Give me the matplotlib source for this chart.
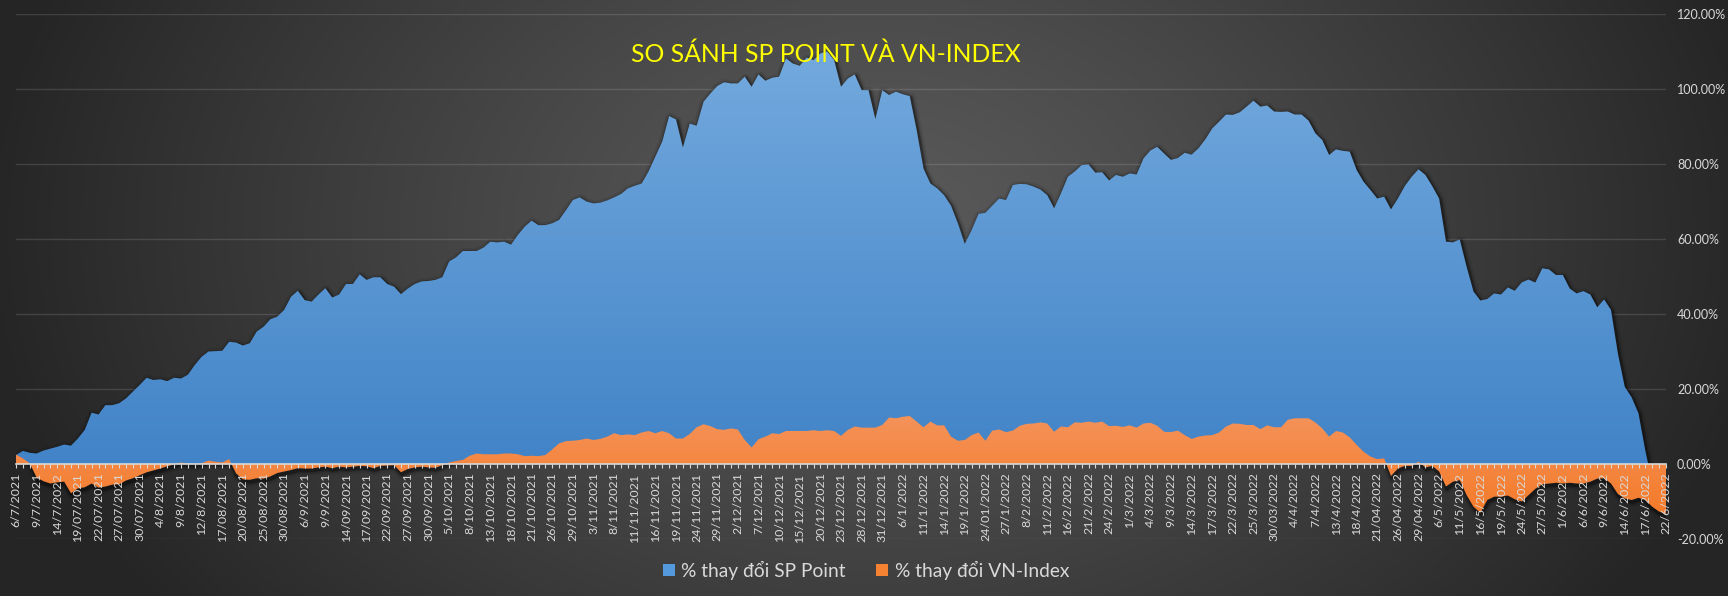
import numpy as np
import matplotlib
matplotlib.use("Agg")
import matplotlib.pyplot as plt
from matplotlib.patches import Polygon, Patch
from matplotlib import transforms
import matplotlib.colors as mcolors

# ---------------- data ----------------
sp_point = [
    2.4, 3.5, 3.0, 2.8, 3.6, 4.1, 4.6, 5.2, 4.9, 6.8,
    9.1, 13.7, 13.2, 15.7, 15.7, 16.2, 17.5, 19.3, 21.1, 23.0,
    22.4, 22.6, 22.1, 23.0, 22.8, 23.8, 26.4, 28.6, 30.0, 30.1,
    30.2, 32.6, 32.4, 31.6, 32.2, 35.3, 36.6, 38.6, 39.3, 41.1,
    44.6, 46.2, 43.7, 43.3, 45.2, 46.9, 44.4, 45.2, 48.0, 48.0,
    50.6, 49.1, 49.8, 49.8, 48.0, 47.3, 45.3, 46.8, 48.0, 48.7,
    48.8, 49.1, 49.8, 54.0, 55.1, 56.8, 56.8, 56.8, 57.7, 59.3,
    59.1, 59.3, 58.5, 61.1, 63.3, 64.9, 63.7, 63.7, 64.2, 65.1,
    67.7, 70.4, 71.1, 70.0, 69.5, 69.7, 70.3, 71.1, 72.0, 73.5,
    74.2, 74.8, 78.0, 82.0, 86.0, 92.8, 91.9, 84.4, 90.8, 90.2,
    96.6, 98.8, 100.8, 101.8, 101.5, 101.5, 103.3, 100.6, 103.9, 102.2,
    103.0, 103.3, 108.2, 106.8, 106.2, 108.4, 107.7, 109.5, 110.0, 107.7,
    100.6, 102.8, 103.9, 99.7, 99.7, 92.0, 99.7, 98.4, 99.3, 98.6,
    98.1, 89.1, 78.8, 74.8, 73.5, 71.7, 68.9, 64.2, 58.7, 62.4,
    66.7, 67.0, 68.9, 70.8, 70.4, 74.4, 74.7, 74.6, 74.0, 73.2,
    71.7, 68.2, 72.2, 76.6, 78.0, 79.7, 79.9, 77.7, 77.8, 75.6,
    77.1, 76.6, 77.5, 77.2, 81.5, 83.6, 84.6, 82.8, 81.1, 81.6,
    83.0, 82.5, 84.2, 86.6, 89.5, 91.3, 93.2, 93.1, 93.8, 95.3,
    96.9, 95.3, 95.6, 94.0, 93.9, 94.0, 93.2, 93.2, 91.6, 88.2,
    86.4, 82.4, 83.9, 83.5, 83.3, 78.4, 75.3, 73.1, 70.8, 71.3,
    67.9, 70.8, 74.1, 76.6, 78.6, 77.1, 74.1, 70.8, 59.3, 59.1,
    59.9, 52.6, 46.0, 43.6, 44.0, 45.5, 45.2, 47.1, 46.2, 48.4,
    49.2, 48.4, 52.2, 51.9, 50.4, 50.4, 46.8, 45.5, 46.1, 45.2,
    41.8, 43.9, 41.1, 29.5, 20.6, 17.8, 13.5, 3.5, -5.0, -8.0,
    -10.0,
]

vn_index = [
    2.5, 1.5, 0.2, -3.6, -4.6, -5.2, -4.9, -4.7, -7.8, -6.5,
    -6.2, -5.2, -6.3, -6.0, -5.5, -5.4, -4.4, -3.8, -3.0, -2.2,
    -1.7, -1.2, -0.6, -0.1, 0.4, 0.1, 0.0, 0.2, 0.9, 0.6,
    0.4, 1.3, -2.5, -4.1, -4.2, -3.8, -3.9, -3.3, -2.4, -2.0,
    -1.6, -1.1, -1.2, -1.2, -0.9, -0.7, -1.1, -0.7, -0.9, -0.7,
    -0.5, -0.6, -1.1, -0.5, -0.4, -0.3, -2.2, -1.3, -0.9, -0.7,
    -0.9, -1.0, -0.3, 0.4, 0.8, 1.1, 2.2, 2.8, 2.6, 2.6,
    2.6, 2.8, 2.8, 2.6, 2.1, 2.2, 2.1, 2.4, 3.9, 5.5,
    6.1, 6.2, 6.4, 6.8, 6.4, 6.7, 7.3, 8.2, 7.7, 7.9,
    7.7, 8.4, 8.8, 8.2, 8.8, 8.2, 6.8, 6.8, 8.0, 9.8,
    10.6, 10.1, 9.3, 9.1, 9.5, 9.2, 6.4, 4.4, 6.6, 7.3,
    8.2, 8.0, 8.8, 8.8, 8.8, 8.8, 9.0, 8.8, 9.0, 8.8,
    7.5, 9.1, 10.0, 9.7, 9.7, 9.7, 10.4, 12.4, 12.2, 12.6,
    12.8, 11.3, 9.8, 11.3, 10.3, 10.3, 7.3, 6.2, 6.4, 7.7,
    8.4, 6.2, 8.9, 9.2, 8.5, 8.9, 10.2, 10.7, 10.8, 11.1,
    10.8, 8.6, 10.0, 9.8, 11.1, 11.0, 11.3, 11.0, 11.3, 10.1,
    10.2, 9.9, 10.3, 9.7, 10.8, 11.0, 10.2, 8.6, 8.5, 8.9,
    7.7, 6.7, 7.3, 7.6, 7.7, 8.4, 10.0, 10.8, 10.7, 10.4,
    10.4, 9.3, 10.3, 9.8, 9.8, 11.8, 12.2, 12.2, 12.2, 11.1,
    9.5, 7.3, 8.8, 8.4, 7.1, 5.1, 3.3, 2.0, 1.3, 1.5,
    -3.2, -1.2, -0.5, -0.5, 0.6, -0.9, -0.5, -2.0, -6.0, -4.7,
    -4.3, -8.3, -11.4, -13.0, -9.6, -8.7, -8.7, -8.4, -9.4, -10.0,
    -8.3, -6.6, -5.4, -5.2, -5.0, -5.2, -5.0, -5.2, -5.2, -4.7,
    -3.9, -3.8, -5.2, -8.0, -9.2, -9.6, -9.0, -9.6, -11.4, -12.7,
    -13.3,
]

tick_labels = [
    "6/7/2021", "9/7/2021", "14/7/2022", "19/07/2021", "22/07/2021", "27/07/2021",
    "30/07/2021", "4/8/2021", "9/8/2021", "12/8/2021", "17/08/2021", "20/08/2021",
    "25/08/2021", "30/08/2021", "6/9/2021", "9/9/2021", "14/09/2021", "17/09/2021",
    "22/09/2021", "27/09/2021", "30/09/2021", "5/10/2021", "8/10/2021", "13/10/2021",
    "18/10/2021", "21/10/2021", "26/10/2021", "29/10/2021", "3/11/2021", "8/11/2021",
    "11/11/2021", "16/11/2021", "19/11/2021", "24/11/2021", "29/11/2021", "2/12/2021",
    "7/12/2021", "10/12/2021", "15/12/2021", "20/12/2021", "23/12/2021", "28/12/2021",
    "31/12/2021", "6/1/2022", "11/1/2022", "14/1/2022", "19/1/2022", "24/01/2022",
    "27/1/2022", "8/2/2022", "11/2/2022", "16/2/2022", "21/2/2022", "24/2/2022",
    "1/3/2022", "4/3/2022", "9/3/2022", "14/3/2022", "17/3/2022", "22/3/2022",
    "25/3/2022", "30/03/2022", "4/4/2022", "7/4/2022", "13/4/2022", "18/4/2022",
    "21/04/2022", "26/04/2022", "29/04/2022", "6/5/2022", "11/5/2022", "16/5/2022",
    "19/5/2022", "24/5/2022", "27/5/2022", "1/6/2022", "6/6/2022", "9/6/2022",
    "14/6/2022", "17/6/2022", "22/6/2022",
]
label_step = 3
y_ticks = [-20, 0, 20, 40, 60, 80, 100, 120]
title = "SO SÁNH SP POINT VÀ VN-INDEX"
series_names = ["% thay đổi SP Point", "% thay đổi VN-Index"]

# ---------------- style ----------------
plt.rcParams["font.family"] = ["Lato", "DejaVu Sans"]
TXT = "#d9d9d9"
W, H = 1728, 596
fig = plt.figure(figsize=(W / 100, H / 100), dpi=100)

# radial background gradient
bg = fig.add_axes([0, 0, 1, 1], zorder=-10)
yy, xx = np.mgrid[0:H, 0:W]
cx, cy, rx, ry = 880, 230, 900, 640
d = np.clip(np.sqrt(((xx - cx) / rx) ** 2 + ((yy - cy) / ry) ** 2), 0, 1)
t = (d ** 1.2)[..., None]
c_center = np.array([0x5a, 0x5a, 0x5a]) / 255
c_edge = np.array([0x25, 0x25, 0x25]) / 255
bg.imshow(c_center * (1 - t) + c_edge * t, extent=[0, 1, 0, 1], aspect="auto", origin="upper")
bg.axis("off")

ax = fig.add_axes([16 / W, 57 / H, 1650 / W, 525 / H])
ax.set_facecolor("none")
n = len(sp_point)
x = np.arange(n)

for yv in y_ticks:
    if yv != 0:
        ax.axhline(yv, color="white", alpha=0.13, lw=1.0, zorder=0.5)

# soft shadows
shadow_tr = transforms.offset_copy(ax.transData, fig=fig, x=1, y=-2, units="dots")
for series in (sp_point, vn_index):
    for lw, a in [(10, 0.08), (6, 0.16), (3.5, 0.3)]:
        ax.plot(x, series, color="black", lw=lw * 0.72, alpha=a, transform=shadow_tr,
                zorder=1.0, solid_joinstyle="round", solid_capstyle="butt")


def grad_fill(vals, top_col, bot_col, y_top, y_bot, z):
    verts = [(0, 0)] + list(zip(x, vals)) + [(n - 1, 0)]
    poly = Polygon(verts, closed=True, facecolor="none", edgecolor="none",
                   transform=ax.transData)
    ax.add_patch(poly)
    g = np.linspace(0, 1, 256)[:, None]
    c1 = np.array(mcolors.to_rgb(top_col))
    c2 = np.array(mcolors.to_rgb(bot_col))
    arr = (c1 * (1 - g) + c2 * g)[:, None, :]
    im = ax.imshow(arr, extent=[0, n - 1, y_bot, y_top], aspect="auto",
                   origin="upper", zorder=z, interpolation="bilinear")
    im.set_clip_path(poly)


grad_fill(sp_point, "#74aade", "#4183c7", 112, -2, 1.5)
grad_fill(vn_index, "#f5935a", "#f47a28", 13, -14, 2.0)

ax.set_xlim(0, n - 1)
ax.set_ylim(-20, 120)

# axes
ax.set_axisbelow(False)
for s in ["top", "left", "right"]:
    ax.spines[s].set_visible(False)
ax.spines["bottom"].set_position(("data", 0))
ax.spines["bottom"].set_color(TXT)
ax.spines["bottom"].set_linewidth(1.2)

ax.set_xticks(x)
ax.set_xticklabels([tick_labels[i // label_step] if i % label_step == 0 else "" for i in x],
                   rotation=90)
ax.tick_params(axis="x", color=TXT, labelcolor=TXT, direction="out", length=2.6,
               width=0.8, pad=3.5, labelsize=8.9)

ax.yaxis.tick_right()
ax.set_yticks(y_ticks)
ax.set_yticklabels([f"{v:.2f}%" for v in y_ticks])
ax.tick_params(axis="y", length=0, pad=8, labelcolor=TXT, labelsize=9)

fig.text(826 / W, 1 - 62 / H, title, color="#ffff00", fontsize=17.8,
         ha="center", va="baseline")

handles = [Patch(facecolor="#5499dc"), Patch(facecolor="#f58233")]
fig.legend(handles, series_names, loc="center", bbox_to_anchor=(866 / W, 26 / H),
           ncol=2, frameon=False, prop={"size": 13.8}, labelcolor=TXT,
           handlelength=0.62, handleheight=0.62, handletextpad=0.35, columnspacing=1.6)

fig.savefig("out.png", dpi=100)
